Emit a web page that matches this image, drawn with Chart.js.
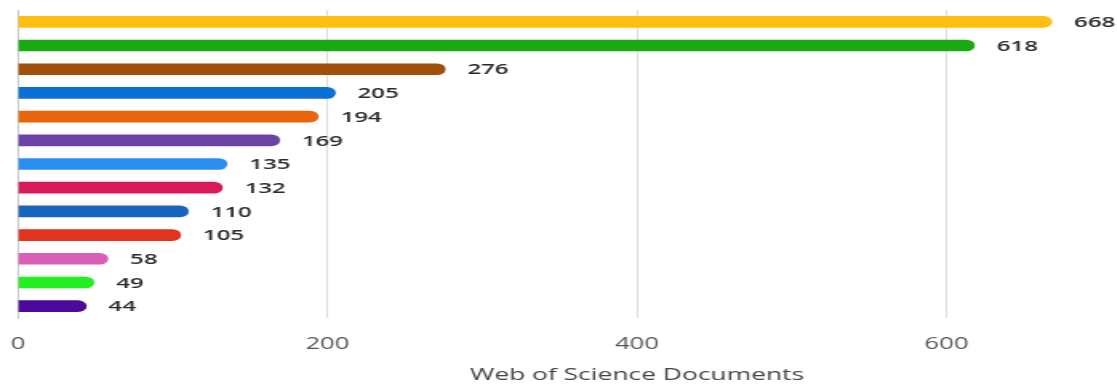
<!DOCTYPE html>
<html>
<head>
<meta charset="utf-8">
<script src="https://cdn.jsdelivr.net/npm/chart.js@4"></script>
<style>
  html, body { margin: 0; padding: 0; background: #fff; overflow: hidden; width: 1117px; height: 385px; }
  /* the reference is stretched sideways and cropped on the right:
     draw it narrow, widen it, and let the page clip the overhang */
  #wrap { width: 795px; height: 385px; transform: scaleX(1.6); transform-origin: 0 0; }
</style>
</head>
<body>
<div id="wrap"><canvas id="chart"></canvas></div>
<script>
const categories = ['1', '2', '3', '4', '5', '6', '7', '8', '9', '10', '11', '12', '13'];
const docCounts  = [668, 618, 276, 205, 194, 169, 135, 132, 110, 105, 58, 49, 44];
const barColors  = ['#fdc010', '#1aaa14', '#a0500a', '#0a6fd6', '#e8650c', '#6b44a6', '#2b8ef2',
                    '#d81a5c', '#1763bf', '#e0341e', '#d85eb8', '#22f022', '#4b0a9c'];
const xTicks     = [0, 200, 400, 600];
const axisTitle  = 'Web of Science Documents';

const fontFamily = '"Open Sans", "DejaVu Sans", sans-serif';

// value text to the right of each bar
const valueLabels = {
  id: 'valueLabels',
  afterDatasetsDraw(chart) {
    const { ctx } = chart;
    const meta = chart.getDatasetMeta(0);
    ctx.save();
    ctx.font = `600 15px ${fontFamily}`;
    ctx.fillStyle = '#2a2a2a';
    ctx.textAlign = 'left';
    ctx.textBaseline = 'middle';
    meta.data.forEach((bar, i) => {
      ctx.fillText(String(docCounts[i]), bar.x + 14, bar.y + 1);
    });
    ctx.restore();
  }
};

new Chart(document.getElementById('chart'), {
  type: 'bar',
  data: {
    labels: categories,
    datasets: [{
      data: docCounts,
      backgroundColor: barColors,
      barThickness: 11,
      borderRadius: 6,
      borderSkipped: 'start'
    }]
  },
  options: {
    indexAxis: 'y',
    responsive: true,
    maintainAspectRatio: false,
    animation: false,
    layout: { padding: { left: 11.25, right: 10, top: 10, bottom: 0 } },
    plugins: { legend: { display: false }, tooltip: { enabled: false } },
    scales: {
      x: {
        min: 0,
        max: 800,
        afterBuildTicks: axis => { axis.ticks = xTicks.map(v => ({ value: v })); },
        afterFit: axis => { axis.paddingLeft = 0; axis.paddingRight = 0; axis.height = 67; },
        grid: { color: '#dcdcdc', drawTicks: false },
        border: { display: false },
        ticks: { color: '#555', padding: 17, font: { family: fontFamily, size: 16 } },
        title: {
          display: true,
          text: axisTitle,
          color: '#444',
          padding: { top: 0, bottom: 0 },
          font: { family: fontFamily, size: 16.5 }
        }
      },
      y: {
        afterFit: axis => { axis.width = 0; },
        grid: { display: false, drawTicks: false },
        border: { display: true, color: '#c8c8c8' },
        ticks: { display: false }
      }
    }
  },
  plugins: [valueLabels]
});
</script>
</body>
</html>
